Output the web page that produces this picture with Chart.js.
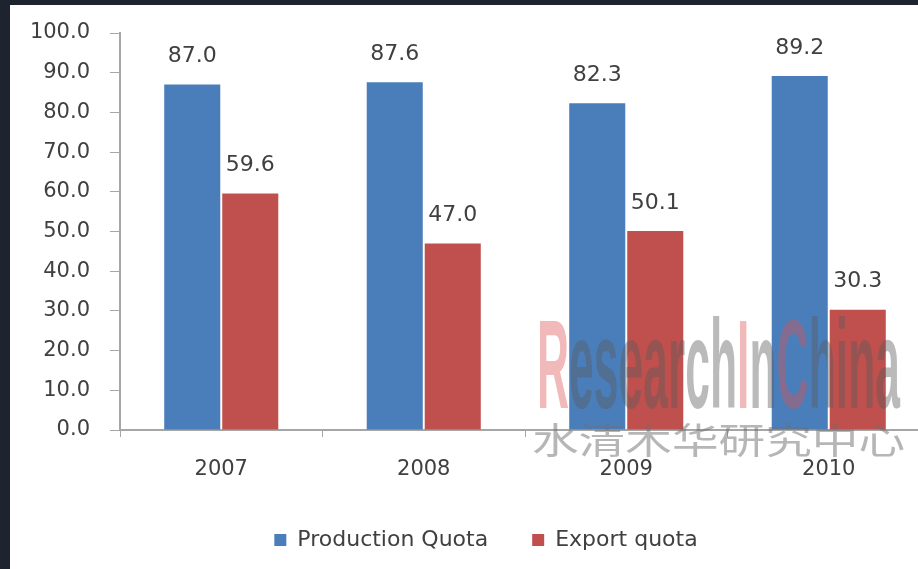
<!DOCTYPE html>
<html>
<head>
<meta charset="utf-8">
<script src="https://cdn.jsdelivr.net/npm/chart.js@4.4.0/dist/chart.umd.min.js"></script>
<style>
  html, body { margin: 0; padding: 0; background: #1e2330; overflow: hidden; }
  #panel { position: absolute; left: 10px; top: 5px; width: 908px; height: 564px; background: #fff; overflow: hidden; }
  #quotaChart { position: absolute; left: 0; top: 0; }
</style>
</head>
<body>
<div id="panel">
  <canvas id="quotaChart" width="920" height="556"></canvas>
</div>
<script>
// quota data
var years = ["2007", "2008", "2009", "2010"];
var productionQuota = [87.0, 87.6, 82.3, 89.2];
var exportQuota = [59.6, 47.0, 50.1, 30.3];
var seriesNames = ["Production Quota", "Export quota"];

var textColor = "#404040";
var axisColor = "#a6a6a6";

// value labels over every bar
var valueLabels = {
    id: 'valueLabels',
    afterDatasetsDraw: function (chart) {
        var ctx = chart.ctx;
        ctx.save();
        ctx.font = "22px 'DejaVu Sans'";
        ctx.fillStyle = textColor;
        ctx.textAlign = "center";
        ctx.textBaseline = "middle";
        chart.data.datasets.forEach(function (ds, i) {
            chart.getDatasetMeta(i).data.forEach(function (bar, j) {
                ctx.fillText(ds.data[j].toFixed(1), bar.x, bar.y - 28);
            });
        });
        ctx.restore();
    }
};

// legend sits a little right of the canvas centre in the original
var legendShift = {
    id: 'legendShift',
    afterLayout: function (chart) {
        chart.legend.left += 16;
        chart.legend.right += 16;
    }
};

// the ResearchInChina watermark
var watermark = {
    id: 'watermark',
    afterDraw: function (chart) {
        var ctx = chart.ctx;
        var parts = [["R", "pink"], ["esearch", "gray"], ["I", "pink"], ["n", "gray"], ["C", "pink"], ["hina", "gray"]];
        var colors = { pink: "rgba(220,80,80,0.4)", gray: "rgba(90,90,90,0.42)" };
        ctx.save();
        ctx.font = "bold 127px 'Liberation Sans'";
        ctx.textBaseline = "alphabetic";
        var full = parts.map(function (p) { return p[0]; }).join("");
        var sx = 363 / ctx.measureText(full).width;
        ctx.translate(527, 403);
        ctx.scale(sx, 1);
        var x = 0;
        parts.forEach(function (p) {
            ctx.fillStyle = colors[p[1]];
            ctx.fillText(p[0], x, 0);
            x += ctx.measureText(p[0]).width;
        });
        ctx.restore();

        ctx.save();
        ctx.font = "36px 'Noto Sans CJK SC'";
        ctx.textBaseline = "middle";
        var cn = "水清木华研究中心";
        var cx = 373 / ctx.measureText(cn).width;
        ctx.translate(522, 435);
        ctx.scale(cx, 1);
        ctx.fillStyle = "rgba(110,110,110,0.5)";
        ctx.fillText(cn, 0, 0);
        ctx.restore();
    }
};

var ctx = document.getElementById('quotaChart').getContext('2d');

var quotaChart = new Chart(ctx, {
    type: 'bar',
    data: {
        labels: years,
        datasets: [
            {
                label: seriesNames[0],
                data: productionQuota,
                backgroundColor: "#4a7ebb"
            },
            {
                label: seriesNames[1],
                data: exportQuota,
                backgroundColor: "#c0504d"
            }
        ]
    },
    options: {
        responsive: false,
        animation: false,
        categoryPercentage: 0.573,
        barPercentage: 0.966,
        layout: { padding: { top: 28, left: 0, right: 0, bottom: 0 } },
        plugins: {
            tooltip: { enabled: false },
            legend: {
                display: true,
                position: 'bottom',
                labels: {
                    boxWidth: 12,
                    boxHeight: 12,
                    padding: 44,
                    color: textColor,
                    font: { family: "'DejaVu Sans'", size: 22 }
                }
            }
        },
        scales: {
            x: {
                grid: { display: true, drawOnChartArea: false, offset: true, color: axisColor, tickLength: 7, lineWidth: 1 },
                border: { display: true, color: axisColor, width: 2 },
                ticks: { color: textColor, padding: 20, font: { family: "'DejaVu Sans'", size: 21 } },
                afterFit: function (scale) { scale.height = 55; }
            },
            y: {
                min: 0,
                max: 100,
                grid: { display: true, drawOnChartArea: false, color: axisColor, tickLength: 10, lineWidth: 1 },
                border: { display: true, color: axisColor, width: 2 },
                ticks: {
                    stepSize: 10,
                    color: textColor,
                    padding: 20,
                    font: { family: "'DejaVu Sans'", size: 21 },
                    callback: function (v) { return v.toFixed(1); }
                },
                afterFit: function (scale) { scale.width = 110; scale.paddingTop = 0; }
            }
        }
    },
    plugins: [valueLabels, legendShift, watermark]
});
</script>
</body>
</html>
